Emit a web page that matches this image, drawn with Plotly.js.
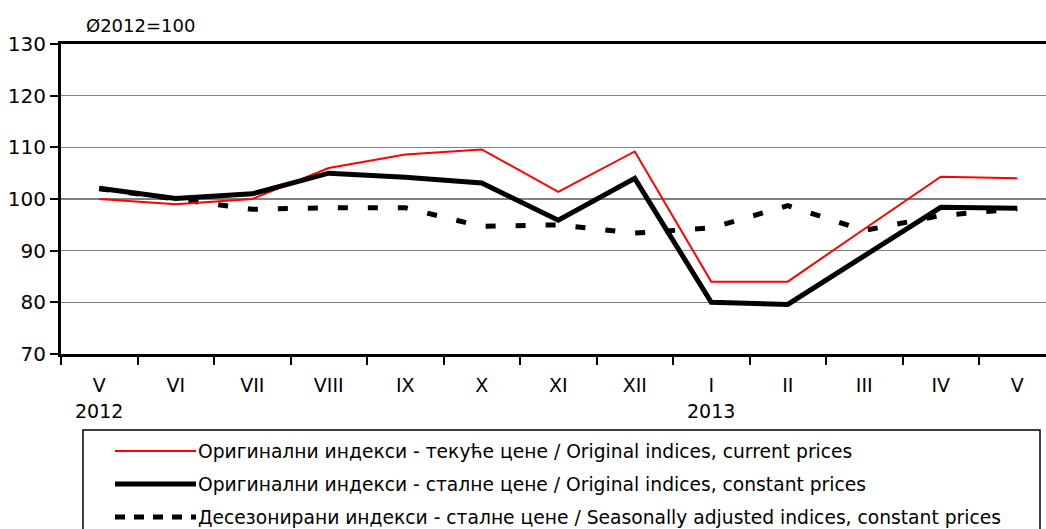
<!DOCTYPE html>
<html><head><meta charset="utf-8">
<script src="https://cdn.plot.ly/plotly-3.0.1.min.js"></script>
<style>html,body{margin:0;padding:0;background:#fff}</style>
</head><body>
<div id="chart" style="width:1046px;height:529px"></div>
<script>
const months = ['V','VI','VII','VIII','IX','X','XI','XII','I','II','III','IV','V'];
const yearLabels = ['2012','','','','','','','','2013','','','',''];
const currentPrices = [100.0, 99.0, 100.0, 106.0, 108.6, 109.6, 101.4, 109.2, 84.0, 84.0, 94.2, 104.3, 104.0];
const constantPrices = [102.1, 100.1, 101.0, 105.0, 104.2, 103.1, 95.9, 104.0, 80.0, 79.6, 89.0, 98.4, 98.2];
const seasonallyAdjusted = [102.0, 100.0, 98.0, 98.3, 98.3, 94.7, 95.0, 93.4, 94.4, 98.7, 93.9, 96.8, 98.1];
const seriesNames = [
  'Оригинални индекси - текуће цене / Original indices, current prices',
  'Оригинални индекси - сталне цене / Original indices, constant prices',
  'Десезонирани индекси - сталне цене / Seasonally adjusted indices, constant prices'
];
const baseNote = 'Ø2012=100';

const W = 1046, H = 529, L = 61, R = 0, T = 44, B = 175;
const pw = W - L - R, ph = H - T - B;
const px = x => (x - L) / pw;
const py = y => (H - B - y) / ph;
const FONT = 'DejaVu Sans, Arial, sans-serif';
const xs = months.map((_, i) => i);

const traces = [
  {x: xs, y: seasonallyAdjusted, type: 'scatter', mode: 'lines', name: seriesNames[2],
   line: {color: '#000', width: 5, dash: '10px,20px'}},
  {x: xs, y: currentPrices, type: 'scatter', mode: 'lines', name: seriesNames[0],
   line: {color: '#ff0000', width: 2}},
  {x: xs, y: constantPrices, type: 'scatter', mode: 'lines', name: seriesNames[1],
   line: {color: '#000', width: 5}}
];

const annotations = [
  {text: baseNote, xref: 'paper', yref: 'paper', x: px(84), y: py(25), xanchor: 'left', yanchor: 'middle',
   showarrow: false, font: {family: FONT, size: 18, color: '#000'}}
];
yearLabels.forEach((t, i) => {
  if (t) annotations.push({text: t, xref: 'x', yref: 'paper', x: i, y: py(411), xanchor: 'center', yanchor: 'middle',
    showarrow: false, font: {family: FONT, size: 19, color: '#000'}});
});
const rowsY = [451, 484, 517];
seriesNames.forEach((t, i) => {
  annotations.push({text: t, xref: 'paper', yref: 'paper', x: px(196), y: py(rowsY[i]), xanchor: 'left', yanchor: 'middle',
    showarrow: false, font: {family: FONT, size: 18.7, color: '#000'}});
});

const shapes = [
  {type: 'line', xref: 'paper', yref: 'y', x0: 0, x1: 1, y0: 100, y1: 100, line: {color: '#000', width: 1}, layer: 'below'},
  {type: 'rect', xref: 'paper', yref: 'paper', x0: px(83), x1: px(1040), y0: py(430), y1: py(560),
   line: {color: '#000', width: 1.5}, fillcolor: 'rgba(0,0,0,0)'},
  {type: 'line', xref: 'paper', yref: 'paper', x0: px(115), x1: px(196), y0: py(rowsY[0]), y1: py(rowsY[0]), line: {color: '#ff0000', width: 2}},
  {type: 'line', xref: 'paper', yref: 'paper', x0: px(115), x1: px(196), y0: py(rowsY[1]), y1: py(rowsY[1]), line: {color: '#000', width: 5}},
  {type: 'line', xref: 'paper', yref: 'paper', x0: px(115), x1: px(196), y0: py(rowsY[2]), y1: py(rowsY[2]), line: {color: '#000', width: 5, dash: '10px,9px'}}
];

const layout = {
  width: W, height: H,
  margin: {l: L, r: R, t: T, b: B, pad: 0},
  paper_bgcolor: '#fff', plot_bgcolor: '#fff',
  showlegend: false,
  font: {family: FONT, size: 18, color: '#000'},
  xaxis: {
    type: 'linear', range: [-0.5, -0.5 + pw / 76.5], tickvals: xs, ticktext: months,
    ticks: '', showgrid: false, zeroline: false, showline: true, linecolor: '#000', linewidth: 3, mirror: true,
    ticklabelstandoff: 12,
    tickfont: {family: FONT, size: 19, color: '#000'},
    minor: {tick0: -0.5, dtick: 1, ticks: 'outside', ticklen: 8, tickwidth: 2, tickcolor: '#000', showgrid: false},
    fixedrange: true
  },
  yaxis: {
    range: [70, 130], dtick: 10, tick0: 70, ticks: 'outside', ticklen: 8, tickwidth: 2, tickcolor: '#000',
    showline: true, linecolor: '#000', linewidth: 3, showgrid: true, gridcolor: '#808080', gridwidth: 1.5,
    zeroline: false, tickfont: {family: FONT, size: 20, color: '#000'}, fixedrange: true
  },
  annotations: annotations,
  shapes: shapes
};
Plotly.newPlot('chart', traces, layout, {displayModeBar: false, staticPlot: true});
</script>
</body></html>
